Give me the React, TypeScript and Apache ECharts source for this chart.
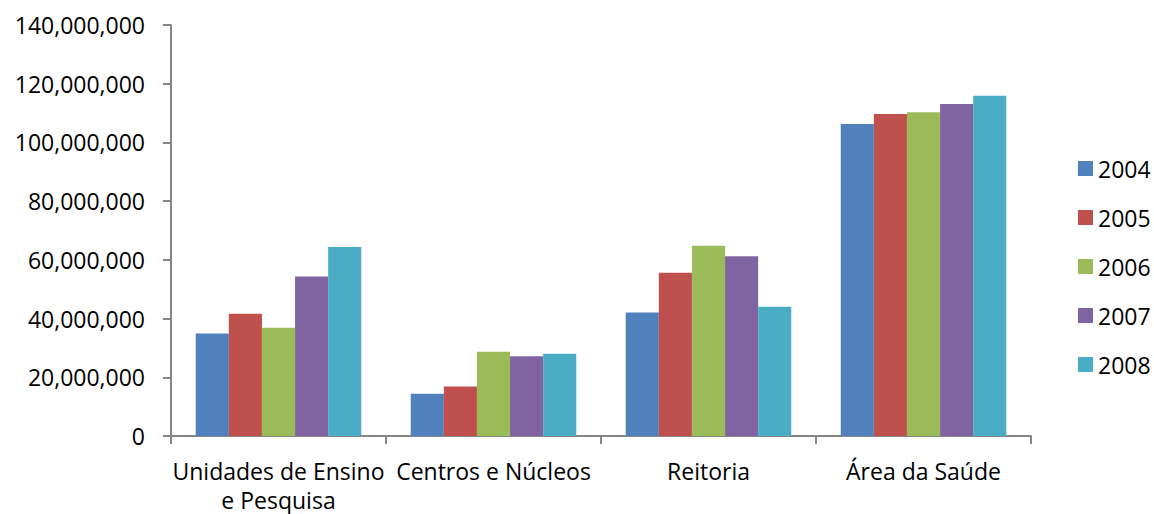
import React, { useEffect, useRef } from "react";
import * as echarts from "echarts";

const categories = ["Unidades de Ensino\ne Pesquisa", "Centros e Núcleos", "Reitoria", "Área da Saúde"];
const years = ["2004", "2005", "2006", "2007", "2008"];
const v2004 = [34900000, 14400000, 42100000, 106300000];
const v2005 = [41600000, 16900000, 55600000, 109700000];
const v2006 = [36900000, 28700000, 64800000, 110300000];
const v2007 = [54300000, 27200000, 61200000, 113100000];
const v2008 = [64400000, 28000000, 44000000, 115900000];
const seriesValues = [v2004, v2005, v2006, v2007, v2008];
const colors = ["#4F81BD", "#C0504D", "#9BBB59", "#8064A2", "#4BACC6"];

const FONT = "Open Sans";

export default function App() {
  const ref = useRef<HTMLDivElement>(null);
  useEffect(() => {
    if (!ref.current) return;
    const chart = echarts.init(ref.current, null, { renderer: "svg" });
    chart.setOption({
      animation: false,
      backgroundColor: "#ffffff",
      textStyle: { fontFamily: FONT },
      grid: { left: 171, right: 123, top: 25, bottom: 77, containLabel: false },
      legend: {
        orient: "vertical",
        left: 1073,
        top: 152,
        itemWidth: 15,
        itemHeight: 15,
        itemGap: 26,
        icon: "rect",
        textStyle: { fontFamily: FONT, fontSize: 23, color: "#000" },
        data: years,
      },
      xAxis: {
        type: "category",
        data: categories,
        boundaryGap: true,
        axisLine: { lineStyle: { color: "#868686", width: 2 } },
        axisTick: { show: true, alignWithLabel: false, length: 8, lineStyle: { color: "#868686", width: 2 } },
        axisLabel: {
          interval: 0,
          margin: 20,
          fontFamily: FONT,
          fontSize: 23,
          color: "#000",
          lineHeight: 29,
        },
      },
      yAxis: {
        type: "value",
        min: 0,
        max: 140000000,
        interval: 20000000,
        splitLine: { show: false },
        axisLine: { show: true, lineStyle: { color: "#868686", width: 2 } },
        axisTick: { show: true, length: 8, lineStyle: { color: "#868686", width: 2 } },
        axisLabel: {
          margin: 26,
          fontFamily: FONT,
          fontSize: 23,
          color: "#000",
          formatter: (v: number) => v.toLocaleString("en-US"),
        },
      },
      series: years.map((y, i) => ({
        name: y,
        type: "bar",
        data: seriesValues[i],
        barGap: "0%",
        barCategoryGap: "23%",
        itemStyle: { color: colors[i] },
      })),
    });
    return () => chart.dispose();
  }, []);
  return <div ref={ref} style={{ position: "fixed", left: 0, top: 0, width: 1154, height: 514 }} />;
}
